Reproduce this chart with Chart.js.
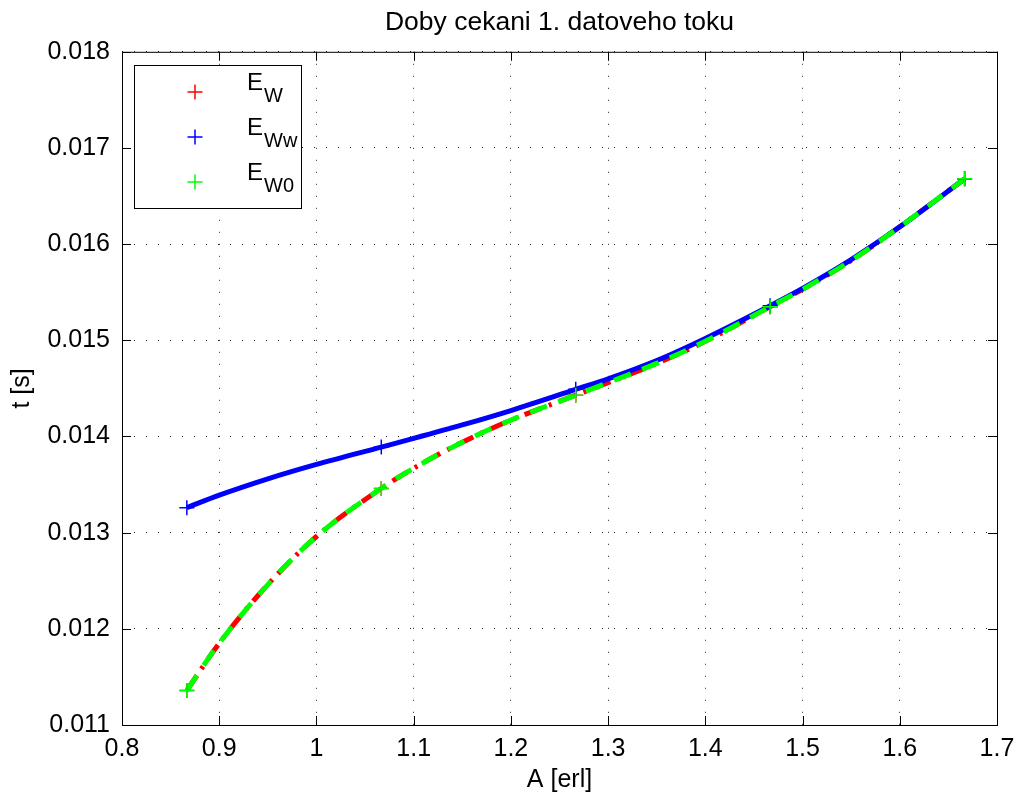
<!DOCTYPE html>
<html>
<head>
<meta charset="utf-8">
<script src="https://cdn.jsdelivr.net/npm/chart.js@4/dist/chart.umd.min.js"></script>
<style>
  html, body { margin: 0; padding: 0; background: #fff; }
  #wrap { width: 1018px; height: 796px; }
</style>
</head>
<body>
<div id="wrap"><canvas id="chart" width="1018" height="796"></canvas></div>
<script>
// offered load A [erl] along the curves
const aLine = [0.8667, 0.9, 0.95, 1.0, 1.0667, 1.1, 1.15, 1.2, 1.2667, 1.3, 1.35, 1.4, 1.4667, 1.5, 1.55, 1.6, 1.6667];
// mean waiting times t [s]
const ewLine  = [0.01136, 0.01185, 0.01246, 0.01296, 0.01346, 0.01367, 0.01394, 0.01417, 0.01443, 0.01456, 0.01476, 0.01499, 0.01535, 0.01553, 0.01583, 0.01618, 0.01668];
const ewwLine = [0.01326, 0.01339, 0.01356, 0.01371, 0.01389, 0.01398, 0.01412, 0.01427, 0.01449, 0.01460, 0.01479, 0.01502, 0.01536, 0.01554, 0.01584, 0.01618, 0.01668];
const ew0Line = [0.01136, 0.01185, 0.01246, 0.01296, 0.01346, 0.01367, 0.01394, 0.01417, 0.01443, 0.01456, 0.01476, 0.01499, 0.01535, 0.01553, 0.01583, 0.01618, 0.01668];

// computed points (markers)
const aMarks   = [0.8667, 1.0667, 1.2667, 1.4667, 1.6667];
const ewMarks  = [0.01136, 0.01346, 0.01443, 0.01535, 0.01668];
const ewwMarks = [0.01326, 0.01389, 0.01449, 0.01536, 0.01668];
const ew0Marks = [0.01136, 0.01346, 0.01443, 0.01535, 0.01668];

const xTicks = [0.8, 0.9, 1.0, 1.1, 1.2, 1.3, 1.4, 1.5, 1.6, 1.7];
const yTicks = [0.011, 0.012, 0.013, 0.014, 0.015, 0.016, 0.017, 0.018];

const RED = '#ff0000', BLUE = '#0000ff', GREEN = '#00ff00';
const FONT = '"Liberation Sans", Arial, Helvetica, sans-serif';

const toXY = (xs, ys) => xs.map((x, i) => ({ x, y: ys[i] }));

function lineSet(label, ys, color, dash, order) {
    return {
        label,
        data: toXY(aLine, ys),
        showLine: true,
        borderColor: color,
        borderWidth: 5,
        borderDash: dash,
        borderCapStyle: 'butt',
        pointRadius: 0,
        cubicInterpolationMode: 'monotone',
        order,
    };
}

function markSet(label, ys, color) {
    return {
        label,
        data: toXY(aMarks, ys),
        showLine: false,
        pointStyle: 'cross',
        pointRadius: 7.5,
        pointBorderWidth: 1.5,
        pointBorderColor: color,
        pointBackgroundColor: color,
        order: 0,
    };
}

const legendItems = [
    { main: 'E', sub: 'W',  color: RED },
    { main: 'E', sub: 'Ww', color: BLUE },
    { main: 'E', sub: 'W0', color: GREEN },
];

function drawCross(ctx, x, y, r, color) {
    ctx.save();
    ctx.strokeStyle = color;
    ctx.lineWidth = 1.5;
    ctx.beginPath();
    ctx.moveTo(x - r, y); ctx.lineTo(x + r, y);
    ctx.moveTo(x, y - r); ctx.lineTo(x, y + r);
    ctx.stroke();
    ctx.restore();
}

// box, inward tick marks on all four sides and the legend
const frame = {
    id: 'frame',
    afterDraw(chart) {
        const { ctx, chartArea: a, scales: { x, y } } = chart;
        ctx.save();
        ctx.strokeStyle = '#000';
        ctx.lineWidth = 1;
        ctx.strokeRect(a.left + 0.5, a.top + 0.5, a.right - a.left, a.bottom - a.top);
        ctx.beginPath();
        const tl = 9;
        xTicks.forEach(v => {
            const px = Math.round(x.getPixelForValue(v)) + 0.5;
            ctx.moveTo(px, a.bottom); ctx.lineTo(px, a.bottom - tl);
            ctx.moveTo(px, a.top); ctx.lineTo(px, a.top + tl);
        });
        yTicks.forEach(v => {
            const py = Math.round(y.getPixelForValue(v)) + 0.5;
            ctx.moveTo(a.left, py); ctx.lineTo(a.left + tl, py);
            ctx.moveTo(a.right, py); ctx.lineTo(a.right - tl, py);
        });
        ctx.stroke();

        // legend
        const lx = 134, ly = 65, lw = 167, lh = 143;
        ctx.fillStyle = '#fff';
        ctx.fillRect(lx, ly, lw, lh);
        ctx.strokeRect(lx + 0.5, ly + 0.5, lw, lh);
        ctx.fillStyle = '#000';
        ctx.textBaseline = 'alphabetic';
        ctx.textAlign = 'left';
        legendItems.forEach((it, i) => {
            const base = 90 + i * 45;
            drawCross(ctx, 195, base + 2, 7.5, it.color);
            ctx.font = '24px ' + FONT;
            ctx.fillText(it.main, 247, base);
            const w = ctx.measureText(it.main).width;
            ctx.font = '20px ' + FONT;
            ctx.fillText(it.sub, 247 + w + 1, base + 12);
        });
        ctx.restore();
    },
};

const tickFont = { family: FONT, size: 25, lineHeight: 1.2 };

new Chart(document.getElementById('chart'), {
    type: 'scatter',
    data: {
        datasets: [
            markSet('E_W0 points', ew0Marks, GREEN),
            markSet('E_Ww points', ewwMarks, BLUE),
            markSet('E_W points', ewMarks, RED),
            lineSet('E_W0', ew0Line, GREEN, [18, 12], 1),
            lineSet('E_Ww', ewwLine, BLUE, [], 2),
            lineSet('E_W', ewLine, RED, [18, 8, 3, 8], 3),
        ],
    },
    options: {
        responsive: false,
        animation: false,
        layout: { padding: { top: 0, right: 21, bottom: 0, left: 0 } },
        plugins: {
            legend: { display: false },
            tooltip: { enabled: false },
            title: {
                display: true,
                text: 'Doby cekani 1. datoveho toku',
                fullSize: false,
                color: '#000',
                font: { family: FONT, size: 26.5, weight: 'normal', lineHeight: 1.2 },
                padding: { top: 7, bottom: 13 },
            },
        },
        scales: {
            x: {
                type: 'linear',
                min: 0.8,
                max: 1.7,
                afterBuildTicks: s => { s.ticks = xTicks.map(value => ({ value })); },
                ticks: {
                    color: '#000',
                    font: tickFont,
                    padding: 9,
                    maxRotation: 0,
                    callback: v => String(+v.toFixed(1)),
                },
                grid: { color: '#222', lineWidth: 1, drawTicks: false },
                border: { display: false, dash: [1, 11] },
                title: { display: true, text: 'A [erl]', color: '#000', font: tickFont, padding: { top: 0, bottom: 1 } },
                afterFit: s => {
                    s.height = 71;
                    s.paddingLeft = 0;
                    s.paddingRight = 0;
                },
            },
            y: {
                type: 'linear',
                min: 0.011,
                max: 0.018,
                afterBuildTicks: s => { s.ticks = yTicks.map(value => ({ value })); },
                ticks: {
                    color: '#000',
                    font: tickFont,
                    padding: 12,
                    callback: v => v.toFixed(3),
                },
                grid: { color: '#222', lineWidth: 1, drawTicks: false },
                border: { display: false, dash: [1, 11] },
                title: { display: true, text: 't [s]', color: '#000', font: tickFont, padding: { top: 7, bottom: 0 } },
                afterFit: s => {
                    s.width = 122;
                    s.paddingTop = 0;
                    s.paddingBottom = 0;
                },
            },
        },
    },
    plugins: [frame],
});
</script>
</body>
</html>
